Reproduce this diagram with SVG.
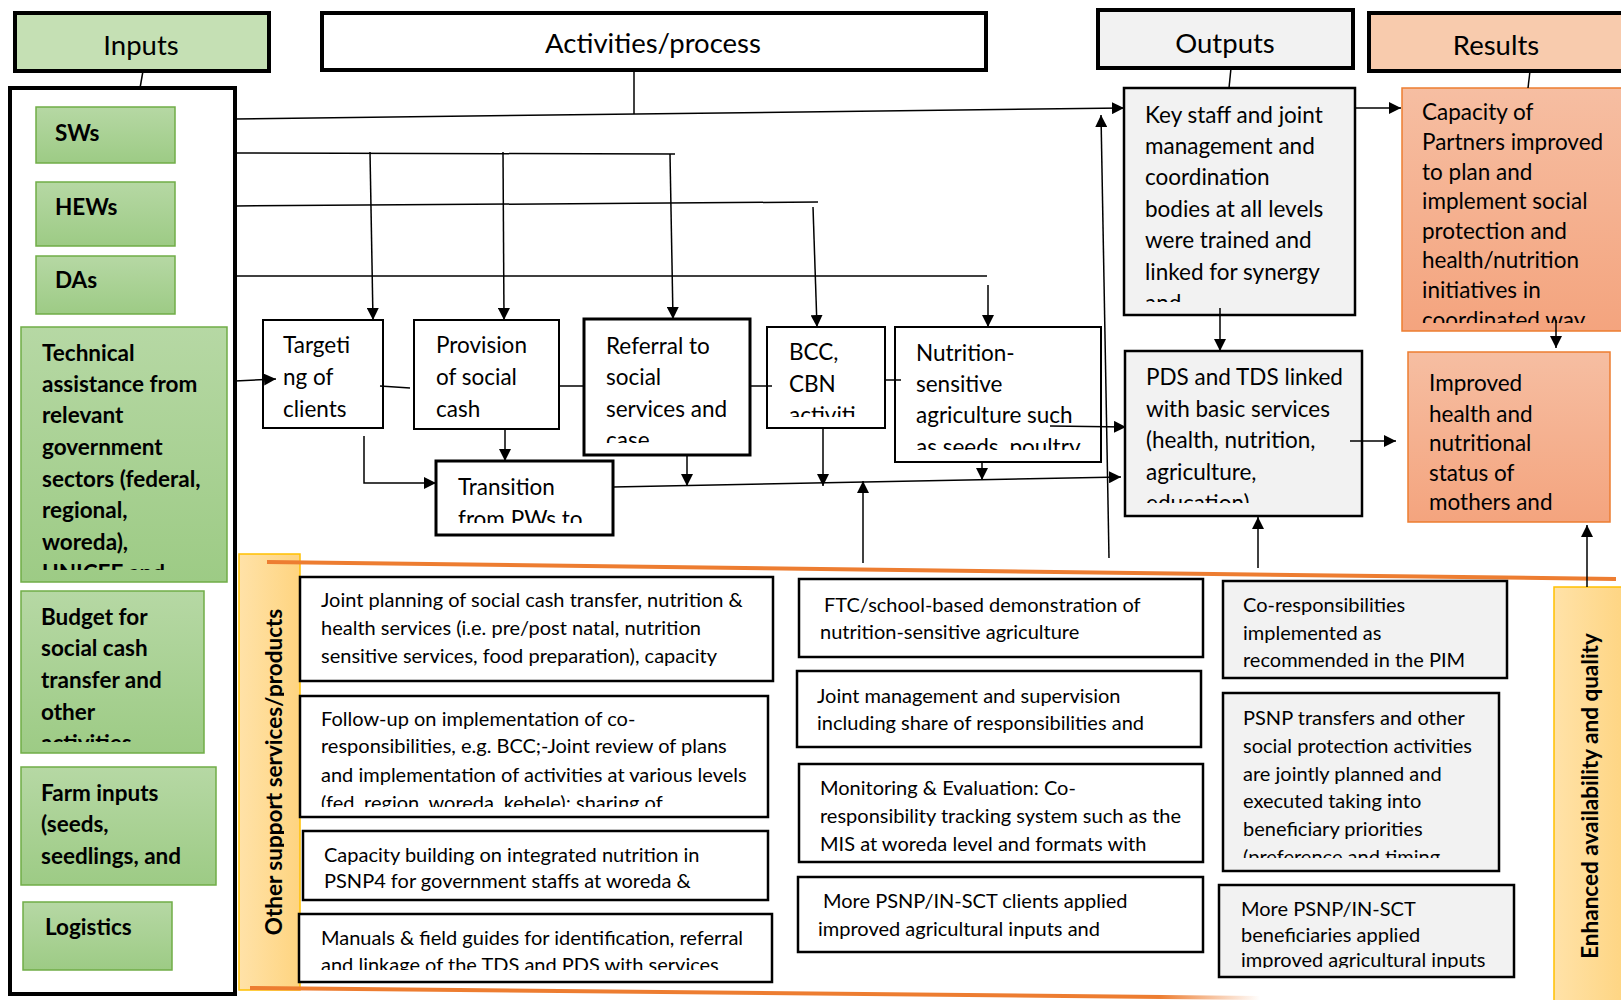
<svg xmlns="http://www.w3.org/2000/svg" width="1621" height="1000" viewBox="0 0 1621 1000">
<style>
text{font-family:Lato,"Liberation Sans",sans-serif;fill:#000}
.h{font-size:27.5px;text-anchor:middle}
.t{font-size:22.5px}
.s{font-size:20px}
.b{font-size:22.5px;font-weight:bold}
.hd{stroke:#000;stroke-width:4}
.in{fill:url(#gGreen);stroke:#70ad47;stroke-width:1.5}
.bx{fill:#fff;stroke:#000;stroke-width:2}
.bx3{fill:#fff;stroke:#000;stroke-width:3}
.gy{fill:#f2f2f2;stroke:#000;stroke-width:2.5}
.wb{fill:#fff;stroke:#000;stroke-width:2.5}
.or{fill:url(#gOrange);stroke:#ed7d31;stroke-width:1.5}
.yl{fill:url(#gYellow);stroke:#ffc000;stroke-width:1.5}
.cn line,.cn path,.cn polyline{stroke:#000;stroke-width:1.5;fill:none}
.ar{marker-end:url(#ah)}
</style>
<defs>
<linearGradient id="gGreen" x1="0" y1="0" x2="0" y2="1"><stop offset="0" stop-color="#b6d8a4"/><stop offset="1" stop-color="#9dcb85"/></linearGradient>
<linearGradient id="gOrange" x1="0" y1="0" x2="0" y2="1"><stop offset="0" stop-color="#f6bea2"/><stop offset="1" stop-color="#f4a47e"/></linearGradient>
<linearGradient id="gYellow" x1="0" y1="0" x2="1" y2="0"><stop offset="0" stop-color="#ffe2a8"/><stop offset="1" stop-color="#fed480"/></linearGradient>
<linearGradient id="gLine" x1="0" y1="0" x2="1" y2="0"><stop offset="0" stop-color="#ed7d31"/><stop offset="0.9" stop-color="#ed7d31"/><stop offset="1" stop-color="#ed7d31" stop-opacity="0"/></linearGradient>
<marker id="ah" viewBox="0 0 12 12" refX="12" refY="6" markerWidth="12" markerHeight="12" markerUnits="userSpaceOnUse" orient="auto"><path d="M0,0 L12,6 L0,12 z" fill="#000"/></marker>
<clipPath id="cTech"><rect x="20" y="327" width="207" height="243"/></clipPath>
<clipPath id="cBudget"><rect x="20" y="591" width="184" height="151"/></clipPath>
<clipPath id="cRef"><rect x="584" y="319" width="166" height="124"/></clipPath>
<clipPath id="cBCC"><rect x="767" y="327" width="118" height="90"/></clipPath>
<clipPath id="cNut"><rect x="895" y="327" width="206" height="123"/></clipPath>
<clipPath id="cTrans"><rect x="436" y="461" width="177" height="62"/></clipPath>
<clipPath id="cKey"><rect x="1124" y="88" width="231" height="214"/></clipPath>
<clipPath id="cCap"><rect x="1401" y="88" width="220" height="235"/></clipPath>
<clipPath id="cPDS"><rect x="1125" y="351" width="237" height="152"/></clipPath>
<clipPath id="cFollow"><rect x="300" y="696" width="468" height="111"/></clipPath>
<clipPath id="cCapB"><rect x="303" y="831" width="465" height="60"/></clipPath>
<clipPath id="cMan"><rect x="299" y="914" width="473" height="56"/></clipPath>
<clipPath id="cPsnpT"><rect x="1223" y="693" width="276" height="165"/></clipPath>
<clipPath id="cMoreB"><rect x="1219" y="885" width="295" height="83"/></clipPath>
<clipPath id="cOther"><rect x="239" y="554" width="45" height="436"/></clipPath>
</defs>
<rect width="1621" height="1000" fill="#fff"/>

<!-- side bars -->
<g id="other-support">
<rect class="yl" x="239" y="554" width="61" height="436"/>
<g clip-path="url(#cOther)"><text class="b" transform="translate(282,772) rotate(-90)" text-anchor="middle">Other support services/products</text></g>
</g>
<g id="enhanced">
<rect class="yl" x="1554" y="587" width="75" height="420"/>
<text class="b" transform="translate(1598,796) rotate(-90)" text-anchor="middle">Enhanced availability and quality</text>
</g>
<g id="separators">
<line x1="267" y1="562" x2="1616" y2="579" stroke="#ed7d31" stroke-width="4"/>
<line x1="250" y1="988" x2="1260" y2="998" stroke="url(#gLine)" stroke-width="4"/>
</g>

<!-- headers -->
<g id="hdr-inputs"><rect class="hd" x="15" y="13" width="254" height="58" fill="#c5e0b4"/><text class="h" x="141" y="55">Inputs</text></g>
<g id="hdr-activities"><rect class="hd" x="322" y="13" width="664" height="57" fill="#fff"/><text class="h" x="653" y="53">Activities/process</text></g>
<g id="hdr-outputs"><rect class="hd" x="1098" y="10" width="255" height="58" fill="#f2f2f2"/><text class="h" x="1225" y="53">Outputs</text></g>
<g id="hdr-results"><rect class="hd" x="1369" y="13" width="260" height="58" fill="#f8cbad"/><text class="h" x="1496" y="55">Results</text></g>

<!-- inputs -->
<g id="inputs-frame"><rect x="10" y="88" width="225" height="906" fill="#fff" stroke="#000" stroke-width="4"/></g>
<g id="in-sws"><rect class="in" x="36" y="107" width="139" height="56"/><text class="b" x="55" y="141">SWs</text></g>
<g id="in-hews"><rect class="in" x="36" y="182" width="139" height="64"/><text class="b" x="55" y="215">HEWs</text></g>
<g id="in-das"><rect class="in" x="36" y="256" width="139" height="58"/><text class="b" x="55" y="288">DAs</text></g>
<g id="in-tech"><rect class="in" x="21" y="327" width="206" height="255"/>
<g clip-path="url(#cTech)" class="b"><text x="42" y="361">Technical</text><text x="42" y="392">assistance from</text><text x="42" y="423">relevant</text><text x="42" y="455">government</text><text x="42" y="487">sectors (federal,</text><text x="42" y="518">regional,</text><text x="42" y="550">woreda),</text><text x="42" y="581">UNICEF and</text></g></g>
<g id="in-budget"><rect class="in" x="21" y="591" width="183" height="162"/>
<g clip-path="url(#cBudget)" class="b"><text x="41" y="625">Budget for</text><text x="41" y="656">social cash</text><text x="41" y="688">transfer and</text><text x="41" y="720">other</text><text x="41" y="751">activities</text></g></g>
<g id="in-farm"><rect class="in" x="21" y="767" width="195" height="118"/>
<g class="b"><text x="41" y="801">Farm inputs</text><text x="41" y="832">(seeds,</text><text x="41" y="864">seedlings, and</text></g></g>
<g id="in-logistics"><rect class="in" x="23" y="902" width="149" height="68"/><text class="b" x="45" y="935">Logistics</text></g>

<!-- activities -->
<g id="act-targeting"><rect class="bx" x="263" y="320" width="120" height="108"/>
<g class="t"><text x="283" y="353">Targeti</text><text x="283" y="385">ng of</text><text x="283" y="417">clients</text></g></g>
<g id="act-provision"><rect class="bx" x="414" y="320" width="145" height="109"/>
<g class="t"><text x="436" y="353">Provision</text><text x="436" y="385">of social</text><text x="436" y="417">cash</text></g></g>
<g id="act-referral"><rect class="bx3" x="584" y="319" width="166" height="136"/>
<g class="t" clip-path="url(#cRef)"><text x="606" y="354">Referral to</text><text x="606" y="385">social</text><text x="606" y="417">services and</text><text x="606" y="448">case</text></g></g>
<g id="act-bcc"><rect class="bx" x="767" y="327" width="118" height="101"/>
<g class="t" clip-path="url(#cBCC)"><text x="789" y="360">BCC,</text><text x="789" y="392">CBN</text><text x="789" y="423">activiti</text></g></g>
<g id="act-nutrition"><rect class="bx" x="895" y="327" width="206" height="135"/>
<g class="t" clip-path="url(#cNut)"><text x="916" y="361">Nutrition-</text><text x="916" y="392">sensitive</text><text x="916" y="423">agriculture such</text><text x="916" y="455">as seeds, poultry</text></g></g>
<g id="act-transition"><rect class="bx3" x="436" y="461" width="177" height="74"/>
<g class="t" clip-path="url(#cTrans)"><text x="458" y="495">Transition</text><text x="458" y="527">from PWs to</text></g></g>

<!-- outputs -->
<g id="out-keystaff"><rect class="gy" x="1124" y="88" width="231" height="227"/>
<g class="t" clip-path="url(#cKey)"><text x="1145" y="123">Key staff and joint</text><text x="1145" y="154">management and</text><text x="1145" y="185">coordination</text><text x="1145" y="217">bodies at all levels</text><text x="1145" y="248">were trained and</text><text x="1145" y="280">linked for synergy</text><text x="1145" y="311">and</text></g></g>
<g id="out-pds"><rect class="gy" x="1125" y="351" width="237" height="165"/>
<g class="t" clip-path="url(#cPDS)"><text x="1146" y="385">PDS and TDS linked</text><text x="1146" y="417">with basic services</text><text x="1146" y="448">(health, nutrition,</text><text x="1146" y="480">agriculture,</text><text x="1146" y="511">education)</text></g></g>

<!-- results -->
<g id="res-capacity"><rect class="or" x="1402" y="88" width="225" height="243"/>
<g class="t" clip-path="url(#cCap)"><text x="1422" y="120">Capacity of</text><text x="1422" y="150">Partners improved</text><text x="1422" y="180">to plan and</text><text x="1422" y="209">implement social</text><text x="1422" y="239">protection and</text><text x="1422" y="268">health/nutrition</text><text x="1422" y="298">initiatives in</text><text x="1422" y="328">coordinated way</text></g></g>
<g id="res-improved"><rect class="or" x="1408" y="352" width="202" height="170"/>
<g class="t"><text x="1429" y="391">Improved</text><text x="1429" y="422">health and</text><text x="1429" y="451">nutritional</text><text x="1429" y="481">status of</text><text x="1429" y="510">mothers and</text></g></g>

<!-- support services -->
<g id="sup-joint-planning"><rect class="wb" x="300" y="577" width="473" height="104"/>
<g class="s"><text x="321" y="607">Joint planning of social cash transfer, nutrition &amp;</text><text x="321" y="635">health services (i.e. pre/post natal, nutrition</text><text x="321" y="663">sensitive services, food preparation), capacity</text></g></g>
<g id="sup-follow-up"><rect class="wb" x="300" y="696" width="468" height="121"/>
<g class="s" clip-path="url(#cFollow)"><text x="321" y="726">Follow-up on implementation of co-</text><text x="321" y="753">responsibilities, e.g. BCC;-Joint review of plans</text><text x="321" y="782">and implementation of activities at various levels</text><text x="321" y="810">(fed, region, woreda, kebele); sharing of</text></g></g>
<g id="sup-capacity"><rect class="wb" x="303" y="831" width="465" height="69"/>
<g class="s" clip-path="url(#cCapB)"><text x="324" y="862">Capacity building on integrated nutrition in</text><text x="324" y="888">PSNP4 for government staffs at woreda &amp;</text></g></g>
<g id="sup-manuals"><rect class="wb" x="299" y="914" width="473" height="68"/>
<g class="s" clip-path="url(#cMan)"><text x="321" y="945">Manuals &amp; field guides for identification, referral</text><text x="321" y="972">and linkage of the TDS and PDS with services</text></g></g>
<g id="sup-ftc"><rect class="wb" x="799" y="579" width="404" height="78"/>
<g class="s"><text x="824" y="612">FTC/school-based demonstration of</text><text x="820" y="639">nutrition-sensitive agriculture</text></g></g>
<g id="sup-joint-mgmt"><rect class="wb" x="797" y="671" width="404" height="76"/>
<g class="s"><text x="817" y="703">Joint management and supervision</text><text x="817" y="730">including share of responsibilities and</text></g></g>
<g id="sup-me"><rect class="wb" x="799" y="764" width="404" height="98"/>
<g class="s"><text x="820" y="795">Monitoring &amp; Evaluation: Co-</text><text x="820" y="823">responsibility tracking system such as the</text><text x="820" y="851">MIS at woreda level and formats with</text></g></g>
<g id="sup-more-clients"><rect class="wb" x="798" y="877" width="405" height="75"/>
<g class="s"><text x="823" y="908">More PSNP/IN-SCT clients applied</text><text x="818" y="936">improved agricultural inputs and</text></g></g>
<g id="sup-coresp"><rect class="gy" x="1223" y="581" width="284" height="97"/>
<g class="s"><text x="1243" y="612">Co-responsibilities</text><text x="1243" y="640">implemented as</text><text x="1243" y="667">recommended in the PIM</text></g></g>
<g id="sup-psnp-transfers"><rect class="gy" x="1223" y="693" width="276" height="178"/>
<g class="s" clip-path="url(#cPsnpT)"><text x="1243" y="725">PSNP transfers and other</text><text x="1243" y="753">social protection activities</text><text x="1243" y="781">are jointly planned and</text><text x="1243" y="808">executed taking into</text><text x="1243" y="836">beneficiary priorities</text><text x="1243" y="864">(preference and timing</text></g></g>
<g id="sup-more-benef"><rect class="gy" x="1219" y="885" width="295" height="92"/>
<g class="s" clip-path="url(#cMoreB)"><text x="1241" y="916">More PSNP/IN-SCT</text><text x="1241" y="942">beneficiaries applied</text><text x="1241" y="967">improved agricultural inputs</text></g></g>

<!-- connectors -->
<g id="connectors" class="cn">
<line x1="143" y1="71" x2="140" y2="88"/>
<line x1="634" y1="70" x2="634" y2="114"/>
<line x1="1231" y1="68" x2="1229" y2="88"/>
<line x1="1530" y1="71" x2="1528" y2="88"/>
<line class="ar" x1="235" y1="119" x2="1124" y2="108"/>
<line x1="235" y1="153" x2="675" y2="154"/>
<line class="ar" x1="370" y1="152" x2="373" y2="320"/>
<line class="ar" x1="503" y1="152" x2="504" y2="320"/>
<line class="ar" x1="670" y1="154" x2="673" y2="319"/>
<line x1="235" y1="206" x2="818" y2="202"/>
<line class="ar" x1="813" y1="207" x2="817" y2="327"/>
<line x1="235" y1="276" x2="987" y2="276"/>
<line class="ar" x1="988" y1="285" x2="988" y2="327"/>
<line class="ar" x1="235" y1="381" x2="276" y2="379"/>
<line x1="380" y1="386" x2="410" y2="388"/>
<line x1="559" y1="386" x2="584" y2="386"/>
<line x1="750" y1="386" x2="772" y2="386"/>
<line x1="885" y1="380" x2="901" y2="380"/>
<line class="ar" x1="505" y1="429" x2="505" y2="461"/>
<polyline class="ar" points="364,436 364,483 436,483"/>
<line class="ar" x1="687" y1="455" x2="687" y2="486"/>
<line class="ar" x1="823" y1="428" x2="823" y2="486"/>
<line class="ar" x1="982" y1="462" x2="982" y2="480"/>
<line class="ar" x1="863" y1="563" x2="863" y2="481"/>
<line class="ar" x1="613" y1="487" x2="1121" y2="477"/>
<line class="ar" x1="1050" y1="426" x2="1126" y2="427"/>
<line class="ar" x1="1109" y1="558" x2="1101" y2="115"/>
<line class="ar" x1="1355" y1="108" x2="1401" y2="108"/>
<line class="ar" x1="1220" y1="308" x2="1220" y2="351"/>
<line class="ar" x1="1350" y1="441" x2="1396" y2="441"/>
<line class="ar" x1="1556" y1="320" x2="1556" y2="348"/>
<line class="ar" x1="1258" y1="568" x2="1258" y2="517"/>
<line class="ar" x1="1587" y1="587" x2="1587" y2="525"/>
</g>
</svg>
